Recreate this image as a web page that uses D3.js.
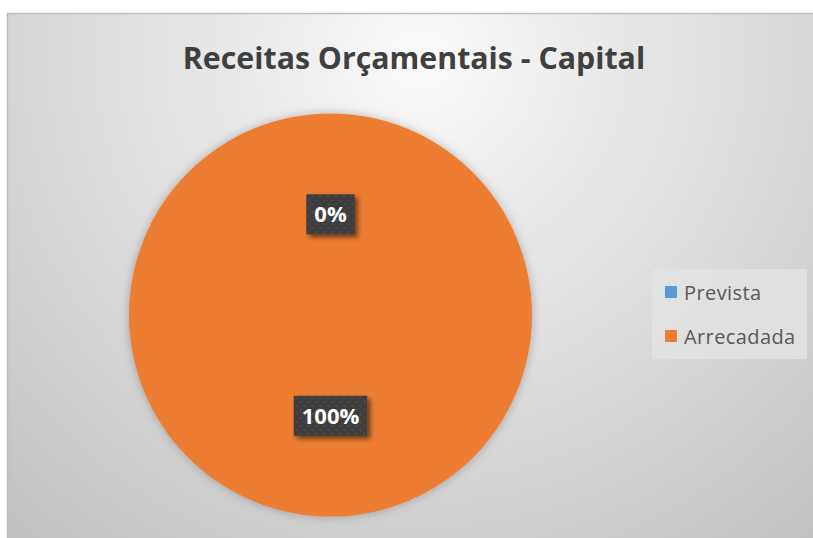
<!DOCTYPE html>
<html>
<head>
<meta charset="utf-8">
<script src="https://cdn.jsdelivr.net/npm/d3@7"></script>
<style>
  html, body { margin: 0; padding: 0; background: #ffffff; }
  svg { display: block; }
</style>
</head>
<body>
<svg class="chart" width="813" height="538"></svg>
<script>
// data
var categories = ["Prevista", "Arrecadada"];
var values = [0, 100];
var colors = ["#5B9BD5", "#ED7D31"];
var title = "Receitas Orçamentais - Capital";

var width = 813, height = 538;
var cx = 330.5, cy = 315, radius = 201.5;

var svg = d3.select(".chart");
var defs = svg.append("defs");

// background gradient
var bg = defs.append("radialGradient").attr("id", "bgGrad")
  .attr("gradientUnits", "userSpaceOnUse")
  .attr("cx", 420).attr("cy", 60).attr("r", 620);
bg.append("stop").attr("offset", "0%").attr("stop-color", "#fbfbfb");
bg.append("stop").attr("offset", "35%").attr("stop-color", "#e6e6e6");
bg.append("stop").attr("offset", "100%").attr("stop-color", "#c2c2c2");

var pieShadow = defs.append("filter").attr("id", "pieShadow")
  .attr("x", "-20%").attr("y", "-20%").attr("width", "140%").attr("height", "140%");
pieShadow.append("feDropShadow").attr("dx", 0).attr("dy", 0)
  .attr("stdDeviation", 5).attr("flood-color", "#000").attr("flood-opacity", 0.25);

var lblShadow = defs.append("filter").attr("id", "lblShadow")
  .attr("x", "-30%").attr("y", "-30%").attr("width", "160%").attr("height", "160%");
lblShadow.append("feDropShadow").attr("dx", 3).attr("dy", 3)
  .attr("stdDeviation", 2.5).attr("flood-color", "#000").attr("flood-opacity", 0.55);

var pat = defs.append("pattern").attr("id", "dots")
  .attr("patternUnits", "userSpaceOnUse").attr("width", 8).attr("height", 8);
pat.append("rect").attr("width", 8).attr("height", 8).attr("fill", "#3e3e3e");
pat.append("rect").attr("x", 1).attr("y", 1).attr("width", 2).attr("height", 2).attr("fill", "#4c4c4c");
pat.append("rect").attr("x", 5).attr("y", 5).attr("width", 2).attr("height", 2).attr("fill", "#4c4c4c");

// chart area
svg.append("rect").attr("x", 7).attr("y", 13).attr("width", width - 7).attr("height", height - 13)
  .attr("fill", "url(#bgGrad)");
svg.append("line").attr("x1", 7).attr("y1", 13.5).attr("x2", width).attr("y2", 13.5)
  .attr("stroke", "#bcbcbc").attr("stroke-width", 1.5);
svg.append("line").attr("x1", 7.5).attr("y1", 13).attr("x2", 7.5).attr("y2", height)
  .attr("stroke", "#bcbcbc").attr("stroke-width", 1.5);

svg.append("text").attr("x", 414).attr("y", 69).attr("text-anchor", "middle")
  .attr("font-family", "Open Sans, sans-serif").attr("font-weight", "bold")
  .attr("font-size", 30.3).attr("fill", "#404040").text(title);

// pie
var pie = d3.pie().sort(null).value(function(d) { return d; });
var arcs = pie(values);
var arc = d3.arc().innerRadius(0).outerRadius(radius);
var labelArc = d3.arc().innerRadius(radius / 2).outerRadius(radius / 2);
var total = d3.sum(values);

var g = svg.append("g").attr("transform", "translate(" + cx + "," + cy + ")");
g.append("g").attr("filter", "url(#pieShadow)").selectAll("path").data(arcs).enter()
  .append("path").attr("d", arc).attr("fill", function(d, i) { return colors[i]; });

var labels = g.selectAll(".lbl").data(arcs).enter().append("g").attr("class", "lbl")
  .attr("transform", function(d) { var c = labelArc.centroid(d); return "translate(" + c[0] + "," + c[1] + ")"; });
labels.each(function(d) {
  var el = d3.select(this);
  var box = el.append("rect").attr("fill", "url(#dots)").attr("filter", "url(#lblShadow)");
  var t = el.append("text").attr("text-anchor", "middle").attr("y", 8)
    .attr("font-family", "Open Sans, sans-serif").attr("font-weight", "bold")
    .attr("font-size", 22).attr("fill", "#ffffff")
    .text(d3.format(".0%")(d.value / total));
  var w = t.node().getComputedTextLength() + 16;
  box.attr("x", -w / 2).attr("y", -20).attr("width", w).attr("height", 40);
});

// legend
var legend = svg.append("g");
legend.append("rect").attr("x", 652).attr("y", 269).attr("width", 155).attr("height", 90)
  .attr("fill", "#e2e2e2").attr("opacity", 0.8);
var items = legend.selectAll(".item").data(categories).enter().append("g")
  .attr("transform", function(d, i) { return "translate(665," + (286 + i * 44) + ")"; });
items.append("rect").attr("width", 12).attr("height", 12)
  .attr("fill", function(d, i) { return colors[i]; });
items.append("text").attr("x", 19).attr("y", 13.5)
  .attr("font-family", "Open Sans, sans-serif").attr("font-size", 20)
  .attr("letter-spacing", 0.4)
  .attr("fill", "#595959").text(function(d) { return d; });
</script>
</body>
</html>
